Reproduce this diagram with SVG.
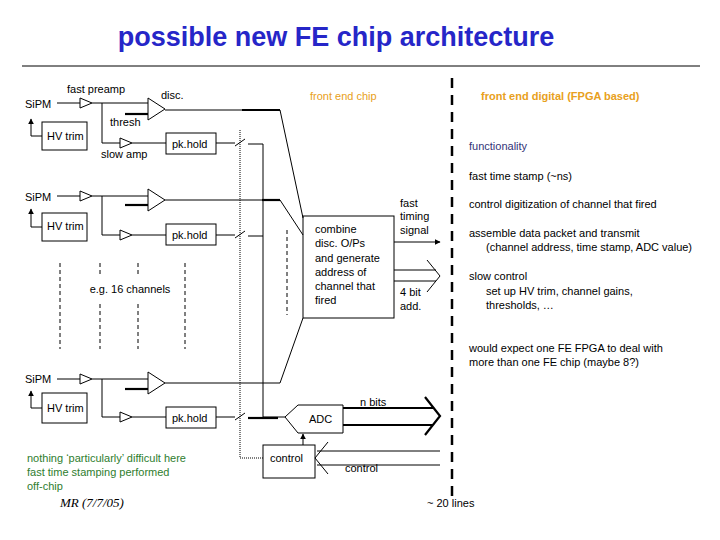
<svg xmlns="http://www.w3.org/2000/svg" width="720" height="540" viewBox="0 0 720 540">
<defs>
<marker id="ah" viewBox="0 0 10 10" refX="9" refY="5" markerWidth="6" markerHeight="6" orient="auto"><path d="M0,0 L10,5 L0,10 z" fill="#000"/></marker>
</defs>
<style>
text{font-family:"Liberation Sans",Arial,sans-serif;font-size:11px;fill:#000}
.ln{stroke:#000;stroke-width:1;fill:none}
.th{stroke:#000;stroke-width:2.2;fill:none}
.bx{stroke:#000;stroke-width:1;fill:#fff}
.dash{stroke:#000;stroke-width:1;stroke-dasharray:4,3;fill:none}
.dot{stroke:#000;stroke-width:1;stroke-dasharray:1,1;fill:none}
.or{fill:#e8a020}
.gr{fill:#2e7d2e}
</style>
<rect width="720" height="540" fill="#fff"/>
<text x="336" y="46" text-anchor="middle" style="font-size:27px;font-weight:bold;fill:#2626c8">possible new FE chip architecture</text>
<line x1="22" y1="66" x2="700" y2="66" stroke="#000" stroke-width="1"/>
<text x="310" y="100" class="or">front end chip</text>
<text x="481" y="100" class="or" style="font-weight:bold">front end digital (FPGA based)</text>

<g id="ch1">
<text x="25" y="108">SiPM</text>
<text x="67" y="93">fast preamp</text>
<text x="161" y="99">disc.</text>
<text x="110" y="126">thresh</text>
<text x="101" y="158">slow amp</text>
<line class="ln" x1="57" y1="103" x2="80" y2="103"/>
<polygon class="bx" points="80,98 92,103 80,108"/>
<path class="ln" d="M92,103 H148 M102,103 V143 H120"/>
<polygon class="bx" points="120,138 132,143 120,148"/>
<line class="ln" x1="132" y1="143" x2="166" y2="143"/>
<polygon class="bx" points="148,98 165,109 148,120"/>
<line class="th" x1="125" y1="114" x2="148" y2="114"/>
<rect class="bx" x="42" y="122" width="45" height="28"/>
<text x="47" y="140">HV trim</text>
<path class="ln" d="M42,136 H31 V119" marker-end="url(#ah)"/>
<rect class="bx" x="166" y="133" width="50" height="21"/>
<text x="172" y="148">pk.hold</text>
<path class="ln" d="M216,143 H235 M235,146 L245,139 M248,144 H263"/>
</g>

<g id="ch2">
<text x="25" y="201">SiPM</text>
<line class="ln" x1="57" y1="196" x2="80" y2="196"/>
<polygon class="bx" points="80,191 92,196 80,201"/>
<path class="ln" d="M92,196 H148 M102,196 V235 H120"/>
<polygon class="bx" points="120,230 132,235 120,240"/>
<line class="ln" x1="132" y1="235" x2="166" y2="235"/>
<polygon class="bx" points="148,189 165,200 148,211"/>
<line class="th" x1="125" y1="205" x2="148" y2="205"/>
<rect class="bx" x="42" y="213" width="45" height="28"/>
<text x="47" y="230">HV trim</text>
<path class="ln" d="M42,227 H31 V209" marker-end="url(#ah)"/>
<rect class="bx" x="166" y="224" width="50" height="21"/>
<text x="172" y="239">pk.hold</text>
<path class="ln" d="M216,235 H235 M235,238 L245,231 M248,236 H263"/>
</g>

<g id="ch3">
<text x="25" y="383">SiPM</text>
<line class="ln" x1="57" y1="379" x2="80" y2="379"/>
<polygon class="bx" points="80,374 92,379 80,384"/>
<path class="ln" d="M92,379 H148 M102,379 V417 H120"/>
<polygon class="bx" points="120,412 132,417 120,422"/>
<line class="ln" x1="132" y1="417" x2="166" y2="417"/>
<polygon class="bx" points="148,372 165,383 148,394"/>
<line class="th" x1="125" y1="389" x2="148" y2="389"/>
<rect class="bx" x="42" y="393" width="45" height="30"/>
<text x="47" y="412">HV trim</text>
<path class="ln" d="M42,408 H31 V391" marker-end="url(#ah)"/>
<rect class="bx" x="166" y="407" width="50" height="21"/>
<text x="172" y="422">pk.hold</text>
<path class="ln" d="M216,417 H235 M235,420 L245,413 M248,418 H263"/>
</g>

<g id="channels">
<path class="dash" d="M60,263 V349 M100,263 V276 M100,304 V349 M138,263 V276 M138,304 V349 M185,263 V349"/>
<text x="130" y="293" text-anchor="middle">e.g. 16 channels</text>
</g>

<g id="combine">
<rect class="bx" x="303" y="216" width="91" height="102"/>
<text x="315" y="233">combine</text>
<text x="315" y="247">disc. O/Ps</text>
<text x="315" y="262">and generate</text>
<text x="315" y="276">address of</text>
<text x="315" y="290">channel that</text>
<text x="315" y="304">fired</text>
<text x="400" y="207">fast</text>
<text x="400" y="220">timing</text>
<text x="400" y="234">signal</text>
<text x="400" y="296">4 bit</text>
<text x="400" y="310">add.</text>
</g>

<g id="adc">
<polygon class="bx" points="285,417 298,405 343,405 343,433 298,433"/>
<text x="309" y="423">ADC</text>
<text x="360" y="406">n bits</text>
<rect class="bx" x="263" y="445" width="52" height="33"/>
<text x="270" y="462">control</text>
<text x="345" y="472">control</text>
</g>

<g id="right">
<text x="469" y="150" style="fill:#333377">functionality</text>
<text x="469" y="180">fast time stamp (~ns)</text>
<text x="469" y="208">control digitization of channel that fired</text>
<text x="469" y="237">assemble data packet and transmit</text>
<text x="486" y="251">(channel address, time stamp, ADC value)</text>
<text x="469" y="280">slow control</text>
<text x="486" y="295">set up HV trim, channel gains,</text>
<text x="486" y="309">thresholds,  …</text>
<text x="469" y="352">would expect one FE FPGA to deal with</text>
<text x="469" y="366">more than one FE chip (maybe 8?)</text>
<text x="427" y="507">~ 20 lines</text>
</g>

<g id="notes">
<text x="27" y="462" class="gr">nothing ‘particularly’ difficult here</text>
<text x="27" y="476" class="gr">fast time stamping performed</text>
<text x="27" y="490" class="gr">off-chip</text>
<text x="60" y="507" style="font-family:'Liberation Serif',serif;font-style:italic;font-size:13px">MR (7/7/05)</text>
</g>

<g id="connectors">
<path class="ln" d="M165,110 H280 L303,218"/>
<line class="th" x1="242" y1="110" x2="280" y2="110"/>
<path class="ln" d="M165,200 H280 L303,235"/>
<line class="th" x1="262" y1="200" x2="280" y2="200"/>
<path class="ln" d="M165,383 H280 L303,318"/>
<line class="ln" x1="263" y1="144" x2="263" y2="418"/>
<line class="ln" x1="263" y1="417" x2="285" y2="417"/>
<line class="th" x1="248" y1="418" x2="278" y2="418"/>
<path class="dot" d="M240,130 V458 H263"/>
<line class="dash" x1="287" y1="230" x2="287" y2="315"/>
<line class="ln" x1="394" y1="242" x2="440" y2="242" marker-end="url(#ah)"/>
<path class="ln" d="M394,270 H436 M394,281 H436 M427,260 L440,276 L427,292"/>
<path class="th" d="M343,408 H433 M343,425 H433 M425,397 L440,416 L425,435"/>
<line class="ln" x1="303" y1="445" x2="303" y2="434" marker-end="url(#ah)"/>
<path class="ln" d="M440,451 H317 M440,465 H317 M328,442 L315,458 L328,474"/>
<line x1="452" y1="78" x2="452" y2="500" stroke="#000" stroke-width="2.5" stroke-dasharray="10,7"/>
</g>
</svg>
